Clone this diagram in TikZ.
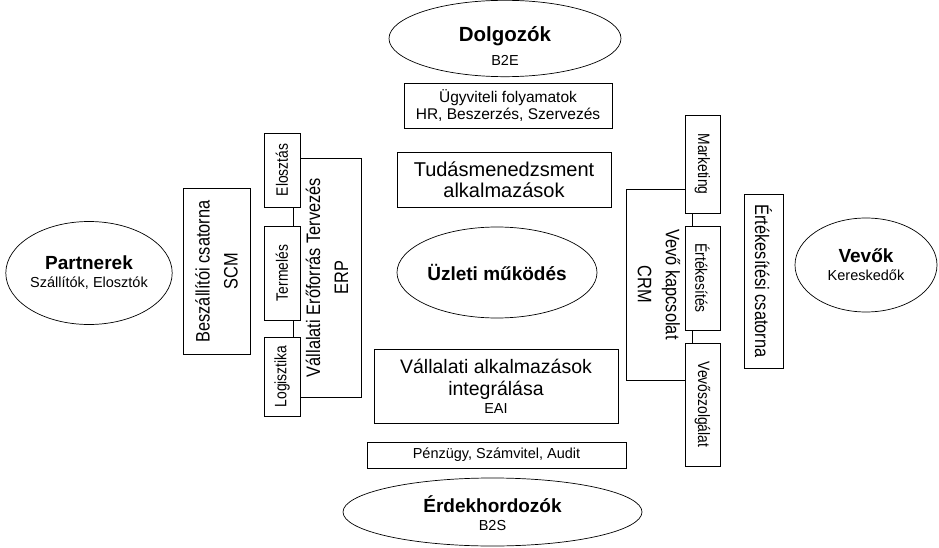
\documentclass[tikz,border=0pt]{standalone}
\usepackage{fontspec}
\setmainfont{Liberation Sans}
\newfontfamily\narrowsf[FakeStretch=0.84]{Liberation Sans}
\usetikzlibrary{shapes.geometric}
\newcommand\ttl[1]{{\fontsize{19}{19}\selectfont\bfseries #1}}

\begin{document}
\begin{tikzpicture}[x=1pt, y=-1pt, line width=0.7pt, every node/.style={font=\fontsize{14.5}{18}\selectfont}]
  \tikzstyle{oval}=[draw,ellipse,inner sep=0pt,align=center]
  \tikzstyle{wbox}=[draw,inner sep=0pt,align=center]
  \tikzstyle{vbig}=[draw,inner sep=0pt,align=center,font=\narrowsf\fontsize{19.5}{28}\selectfont]
  \tikzstyle{vsmall}=[draw,fill=white,inner sep=0pt,font=\narrowsf\fontsize{16.5}{18}\selectfont]
  \useasboundingbox (0,0) rectangle (939,548);
  \node[oval,minimum width=159pt,minimum height=103pt] (partner) at (89,273) {\ttl{Partnerek}\\Szállítók, Elosztók};
  \node[vbig,rotate=90,minimum width=166pt,minimum height=67pt] (scm) at (216.5,271.5) {Beszállítói csatorna\\SCM};
  \node[vbig,rotate=90,minimum width=239pt,minimum height=68pt] (erp) at (327,277.5) {Vállalati Erőforrás Tervezés\\ERP};
  \node[vsmall,rotate=90,minimum width=74pt,minimum height=36pt] (eloszt) at (282,170) {Elosztás};
  \node[vsmall,rotate=90,minimum width=94pt,minimum height=36pt] (termel) at (282,273) {Termelés};
  \node[vsmall,rotate=90,minimum width=79pt,minimum height=36pt] (logiszt) at (282,376.5) {Logisztika};
  \node[oval,minimum width=232pt,minimum height=63pt] (dolg) at (505,38.5) {{\fontsize{20.5}{20}\selectfont\bfseries\rule{0pt}{30pt}Dolgozók}\\[6pt]B2E};
  \node[wbox,minimum width=208pt,minimum height=45pt,font=\fontsize{15.5}{16.5}\selectfont] (ugyv) at (508,105.5) {Ügyviteli folyamatok\\HR, Beszerzés, Szervezés};
  \node[wbox,minimum width=214pt,minimum height=55pt,font=\fontsize{20}{21}\selectfont] (tudas) at (504,179.5) {Tudásmenedzsment\\alkalmazások};
  \node[oval,minimum width=200pt,minimum height=91pt] (uzlet) at (497,272.5) {\ttl{Üzleti működés}};
  \node[wbox,minimum width=244pt,minimum height=74pt,font=\fontsize{19.5}{22}\selectfont] (eai) at (496,386) {Vállalati alkalmazások\\integrálása\\[-4pt]{\fontsize{14.5}{18}\selectfont EAI}};
  \node[wbox,minimum width=259pt,minimum height=26pt] (penz) at (496.5,455) {Pénzügy, Számvitel, Audit};
  \node[oval,minimum width=299pt,minimum height=68pt] (erdek) at (492.5,512) {\ttl{\rule{0pt}{20pt}Érdekhordozók}\\B2S};
  \node[vbig,rotate=-90,minimum width=191pt,minimum height=66pt] (crm) at (659,284.5) {Vevő kapcsolat\\CRM};
  \node[vsmall,rotate=-90,minimum width=98pt,minimum height=35pt] (mark) at (702.5,164) {Marketing};
  \node[vsmall,rotate=-90,minimum width=104pt,minimum height=35pt] (ertek) at (702.5,278) {Értékesítés};
  \node[vsmall,rotate=-90,minimum width=123pt,minimum height=35pt] (vszolg) at (702.5,404.5) {Vevőszolgálat};
  \node[vbig,rotate=-90,minimum width=174pt,minimum height=39pt] (csat) at (763.5,281) {Értékesítési csatorna};
  \node[oval,minimum width=142pt,minimum height=94pt] (vevo) at (866,265) {\ttl{Vevők}\\Kereskedők};
\end{tikzpicture}
\end{document}
